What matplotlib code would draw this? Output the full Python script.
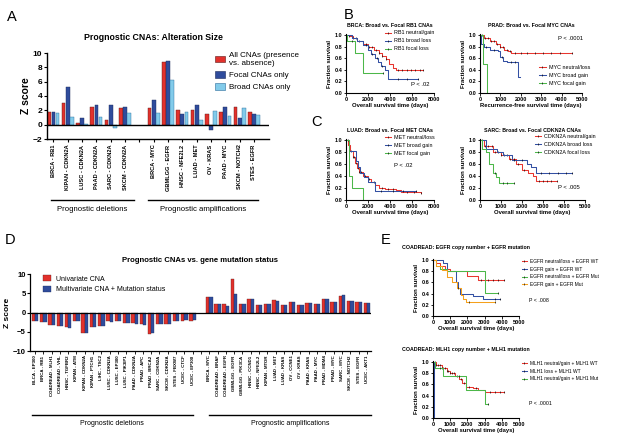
import matplotlib
matplotlib.use("Agg")
import matplotlib.pyplot as plt
import matplotlib.transforms as mtransforms
from matplotlib.patches import Patch
from matplotlib.lines import Line2D
import numpy as np

plt.rcParams['font.family'] = ['Liberation Sans', 'DejaVu Sans']

# ---------------- data ----------------
# Panel A
a_del_labels = ['BRCA - RB1', 'KIPAN - CDKN2A', 'LUSC - CDKN2A', 'PAAD - CDKN2A', 'SARC - CDKN2A', 'SKCM - CDKN2A']
a_amp_labels = ['BRCA - MYC', 'GBMLGG - EGFR', 'HNSC - NFE2L2', 'LUAD - MET', 'OV - KRAS', 'PAAD - MYC', 'SKCM - NOTCH2', 'STES - EGFR']
a_all = [1.8, 3.0, 0.2, 2.4, 0.7, 2.3, 2.3, 8.7, 2.1, 2.1, 1.5, 1.8, 2.4, 1.7]
a_focal = [1.7, 5.2, 0.9, 2.8, 2.7, 2.5, 3.4, 8.9, 1.5, 2.8, -0.7, 2.4, 0.9, 1.5]
a_broad = [1.6, 1.1, 0.05, 1.0, -0.4, 1.6, 1.6, 6.2, 1.7, 0.6, 1.9, 1.2, 2.3, 1.3]

# Panel D
d_del_labels = ['BLCA - EP300', 'BRCA - RB1', 'COADREAD - MLH1', 'COADREAD - VHL', 'HNSC - TGFBR2',
                'KIPAN - ATM', 'KIPAN - CDKN2A', 'KIPAN - PTCH1', 'LIHC - TSC2', 'LUSC - CDKN2A',
                'LUSC - EP300', 'LUSC - PIK3IP1', 'PAAD - CDKN2A', 'PRAD - APC', 'PRAD - BRCA2',
                'SARC - CDKN2A', 'SKCM - CDKN2A', 'STES - FBXW7', 'UCEC - CTCF', 'UCEC - EP300']
d_amp_labels = ['BRCA - MYC', 'COADREAD - BRAF', 'COADREAD - EGFR', 'GBMLGG - EGFR', 'GBMLGG - PIK3CA',
                'HNSC - CCND1', 'HNSC - NFE2L2', 'KIPAN - MTOR', 'LUAD - MET', 'LUAD - KRAS',
                'OV - CCNE1', 'OV - KRAS', 'PAAD - KRAS', 'PAAD - MYC', 'PRAD - MDM4',
                'PRAD - MYC', 'SARC - MYC', 'SKCM - NOTCH2', 'STES - EGFR', 'UCEC - AKT1']
d_uni = [-2.2, -2.4, -3.2, -3.4, -3.8, -2.3, -5.2, -3.8, -3.4, -2.2,
         -2.2, -2.7, -2.8, -3.0, -5.5, -3.0, -3.0, -2.2, -2.2, -2.1,
         4.0, 2.2, 2.2, 8.8, 2.2, 3.4, 2.0, 2.1, 3.2, 1.9,
         2.7, 2.0, 2.5, 2.3, 3.6, 2.8, 4.4, 3.0, 2.7, 2.5]
d_multi = [-2.2, -2.4, -3.2, -3.4, -3.9, -2.2, -5.3, -3.8, -3.4, -2.4,
           -2.3, -2.7, -3.1, -3.3, -5.2, -3.0, -3.0, -2.2, -2.0, -1.9,
           4.0, 2.2, 1.7, 4.8, 2.2, 3.5, 2.0, 2.1, 3.0, 1.9,
           2.7, 2.0, 2.5, 2.3, 3.6, 2.8, 4.5, 3.0, 2.7, 2.5]

# Panel B left: BRCA RB1
b1_red_t = [0, 300, 600, 1000, 1500, 2000, 2500, 3000, 3300, 3600, 3900, 4300, 4500, 7000]
b1_red_s = [1.0, 0.98, 0.95, 0.9, 0.85, 0.8, 0.74, 0.69, 0.64, 0.58, 0.5, 0.44, 0.4, 0.4]
b1_red_c = [300, 600, 900, 1200, 1500, 1800, 2100, 2400, 2700, 3000, 3300, 3600, 4700, 5100, 5500, 5900, 6300, 6700, 7000]
b1_blue_t = [0, 500, 1000, 1500, 2000, 2300, 2600, 2900, 3200, 3500, 3850, 6500]
b1_blue_s = [1.0, 0.95, 0.9, 0.83, 0.75, 0.67, 0.6, 0.53, 0.47, 0.4, 0.25, 0.25]
b1_blue_c = [1800, 2400, 2800, 3300, 4700, 5500, 6500]
b1_green_t = [0, 100, 850, 1550, 3400]
b1_green_s = [1.0, 0.9, 0.7, 0.35, 0.35]
b1_green_c = [500, 3400]

# Panel B right: PRAD MYC
b2_red_t = [0, 200, 500, 800, 1000, 1200, 1350, 1500, 4500]
b2_red_s = [1.0, 0.95, 0.9, 0.85, 0.8, 0.75, 0.72, 0.7, 0.7]
b2_red_c = [100, 250, 400, 550, 700, 850, 1000, 1150, 1300, 1450, 1700, 2000, 2300, 2700, 3100, 3500, 3900, 4500]
b2_blue_t = [0, 50, 200, 500, 900, 1000, 1150, 1300, 1850, 1950]
b2_blue_s = [1.0, 0.85, 0.8, 0.75, 0.73, 0.63, 0.56, 0.53, 0.27, 0.27]
b2_blue_c = [300, 700, 1100, 1500, 1700]
b2_green_t = [0, 150, 350, 360]
b2_green_s = [1.0, 0.5, 0.0, 0.0]

# Panel C left: LUAD MET
c1_red_t = [0, 200, 400, 600, 800, 1000, 1200, 1500, 2000, 2300, 2600, 3000, 3500, 4500, 5000, 6800]
c1_red_s = [1.0, 0.92, 0.82, 0.72, 0.62, 0.53, 0.46, 0.4, 0.35, 0.3, 0.25, 0.2, 0.18, 0.17, 0.13, 0.12]
c1_red_c = [150, 300, 450, 600, 750, 900, 1050, 1200, 1400, 1700, 2100, 2500, 3300, 3800, 4300, 5500, 6200, 6800]
c1_blue_t = [0, 300, 950, 1100, 1300, 1600, 2000, 2600, 6400]
c1_blue_s = [1.0, 0.82, 0.65, 0.55, 0.45, 0.38, 0.3, 0.15, 0.15]
c1_blue_c = [3200, 4300, 5200, 6400]
c1_green_t = [0, 250, 550, 1500, 1510]
c1_green_s = [1.0, 0.4, 0.2, 0.0, 0.0]

# Panel C right: SARC CDKN2A
c2_red_t = [0, 200, 600, 1000, 1400, 1700, 2000, 2300, 2500, 2650, 3650]
c2_red_s = [1.0, 0.9, 0.8, 0.75, 0.68, 0.6, 0.5, 0.45, 0.4, 0.32, 0.32]
c2_red_c = [100, 250, 400, 550, 700, 850, 1000, 1150, 1300, 1450, 1600, 1800, 2100, 2800, 3000, 3200, 3400, 3650]
c2_blue_t = [0, 300, 800, 1100, 1500, 2250, 2450, 2650, 4400]
c2_blue_s = [1.0, 0.85, 0.8, 0.75, 0.67, 0.6, 0.55, 0.45, 0.45]
c2_blue_c = [1600, 2000, 2900, 3300, 3700, 4100, 4400]
c2_green_t = [0, 100, 300, 450, 600, 750, 900, 1600]
c2_green_s = [1.0, 0.85, 0.8, 0.6, 0.45, 0.38, 0.29, 0.29]
c2_green_c = [700, 1100, 1300, 1600]

# Panel E top: COADREAD EGFR
e1_red_t = [0, 200, 400, 700, 1000, 2000, 2600, 4100]
e1_red_s = [1.0, 0.95, 0.9, 0.85, 0.8, 0.72, 0.65, 0.65]
e1_red_c = [2800, 3000, 3200, 3500, 3800, 4100]
e1_blue_t = [0, 600, 800, 1350, 1450, 1550, 2300, 2900, 3900]
e1_blue_s = [1.0, 0.95, 0.8, 0.6, 0.5, 0.4, 0.36, 0.3, 0.3]
e1_blue_c = [3600, 3900]
e1_green_t = [0, 200, 400, 800, 1600, 3000, 3050, 3800]
e1_green_s = [1.0, 0.9, 0.85, 0.8, 0.8, 0.62, 0.42, 0.42]
e1_green_c = [3800]
e1_orange_t = [0, 200, 500, 800, 1100, 1400, 1600, 1750, 1900, 3600]
e1_orange_s = [1.0, 0.9, 0.82, 0.7, 0.6, 0.5, 0.38, 0.3, 0.25, 0.25]
e1_orange_c = [1450, 2100, 3600]

# Panel E bottom: COADREAD MLH1
e2_red_t = [0, 200, 500, 800, 1000, 1300, 1500, 1700, 1900, 2300, 2600, 3000, 4100]
e2_red_s = [1.0, 0.95, 0.9, 0.85, 0.8, 0.75, 0.7, 0.62, 0.55, 0.53, 0.5, 0.47, 0.47]
e2_red_c = [100, 200, 300, 400, 500, 600, 700, 800, 900, 1000, 1100, 1200, 1400, 1600, 1800, 2100, 2500, 3300, 3600, 3900, 4100]
e2_blue_t = [0, 60, 70]
e2_blue_s = [1.0, 0.0, 0.0]
e2_green_t = [0, 100, 600, 1900, 3000, 3050, 3200]
e2_green_s = [1.0, 0.9, 0.75, 0.5, 0.5, 0.25, 0.25]
e2_green_c = [400, 1500, 3200]

RED = '#e2312c'
DBLUE = '#2f4c9c'
LBLUE = '#82cbea'
KRED = '#e8352f'
KBLUE = '#3350a3'
KGREEN = '#4cb749'
KORANGE = '#f5a01c'

W, H = 617, 444
fig = plt.figure(figsize=(W / 100, H / 100), dpi=100)


def px_axes(x0, y0, x1, y1):
    return fig.add_axes([x0 / W, 1 - y1 / H, (x1 - x0) / W, (y1 - y0) / H])


def group_line(ax, x0, x1, y_line, y_txt, label, fs):
    trans = mtransforms.blended_transform_factory(ax.transData, ax.transAxes)
    ax.plot([x0, x1], [y_line, y_line], color='black', lw=1.0, transform=trans, clip_on=False)
    ax.text((x0 + x1) / 2, y_txt, label, transform=trans, ha='center', va='top', fontsize=fs)


# ---------------- Panel A ----------------
axA = px_axes(47, 53, 269, 139)
a_pos = np.array(list(range(6)) + list(range(7, 15)))
wA = 0.26
axA.bar(a_pos - 0.29, a_all, wA, color=RED, edgecolor='#5a1a18', lw=0.3)
axA.bar(a_pos, a_focal, wA, color=DBLUE, edgecolor='#1a2a5a', lw=0.3)
axA.bar(a_pos + 0.29, a_broad, wA, color=LBLUE, edgecolor='#2a6a9a', lw=0.3)
axA.axhline(0, color='black', lw=1.0)
axA.set_xlim(-0.45, 15.05)
axA.set_ylim(-2, 10)
axA.set_yticks(range(-2, 11, 2))
axA.set_xticks(range(15))
axA.set_xticklabels(a_del_labels + [''] + a_amp_labels, rotation=90, fontsize=4.1, fontweight='bold')
axA.tick_params(axis='y', labelsize=6, width=0.8, length=2.5, pad=1)
axA.tick_params(axis='x', width=0.8, length=2.5, pad=1.5)
for lab in axA.get_yticklabels():
    lab.set_fontweight('bold')
for sp in ['top', 'right']:
    axA.spines[sp].set_visible(False)
for sp in ['left', 'bottom']:
    axA.spines[sp].set_linewidth(1.0)
axA.set_ylabel('Z score', fontsize=7.5, fontweight='bold', labelpad=1)
axA.set_title('Prognostic CNAs: Alteration Size', fontsize=6.3, fontweight='bold', pad=9, x=0.48)
a_handles = [Patch(facecolor=RED, edgecolor='#5a1a18', lw=0.4, label='All CNAs (presence\nvs. absence)'),
             Patch(facecolor=DBLUE, edgecolor='#1a2a5a', lw=0.4, label='Focal CNAs only'),
             Patch(facecolor=LBLUE, edgecolor='#2a6a9a', lw=0.4, label='Broad CNAs only')]
axA.legend(handles=a_handles, loc='upper left', bbox_to_anchor=(0.74, 1.05), frameon=False, fontsize=5.8,
           handlelength=1.3, handleheight=0.9, labelspacing=0.5, handletextpad=0.5, borderaxespad=0)
group_line(axA, -0.2, 5.6, -0.71, -0.78, 'Prognostic deletions', 5.6)
group_line(axA, 6.6, 14.3, -0.71, -0.78, 'Prognostic amplifications', 5.6)


# ---------------- KM helpers ----------------
def km_axes(box, xmax, xstep, title, xlabel, title_left=None):
    ax = px_axes(*box)
    ax.set_xlim(0, xmax)
    ax.set_ylim(0, 1.02)
    ax.set_xticks(np.arange(0, xmax + 1, xstep))
    ax.set_yticks(np.arange(0, 1.01, 0.2))
    ax.set_yticklabels(['%.1f' % v for v in np.arange(0, 1.01, 0.2)])
    ax.tick_params(labelsize=4, width=0.6, length=1.8, pad=0.8)
    for lab in ax.get_xticklabels() + ax.get_yticklabels():
        lab.set_fontweight('bold')
    for sp in ['top', 'right']:
        ax.spines[sp].set_visible(False)
    for sp in ['left', 'bottom']:
        ax.spines[sp].set_linewidth(0.8)
    ax.set_xlabel(xlabel, fontsize=4.2, fontweight='bold', labelpad=1)
    ax.set_ylabel('Fraction survival', fontsize=4.3, fontweight='bold', labelpad=1.5)
    if title_left is None:
        ax.set_title(title, fontsize=3.8, fontweight='bold', pad=5)
    else:
        fig.text(title_left / W, 1 - (box[1] - 12) / H, title, fontsize=3.8, fontweight='bold', va='center')
    return ax


def km(ax, t, s, color, label, censor=None):
    ax.step(t, s, where='post', color=color, lw=0.75, label=label)
    if censor:
        c = np.array(censor)
        idx = np.searchsorted(t, c, side='right') - 1
        ax.plot(c, np.array(s)[idx], ls='none', marker='|', ms=1.8, mew=0.45, color='black')


def km_legend(ax, labels, colors, x, y, fs=3.9):
    handles = [Line2D([0], [0], color=c, lw=0.75, marker='|', ms=1.8, mew=0.45, mec='black') for c in colors]
    ax.legend(handles, labels, loc='upper left', bbox_to_anchor=(x, y), frameon=False, fontsize=fs,
              handlelength=1.2, labelspacing=0.55, handletextpad=0.6, borderaxespad=0, borderpad=0)


# ---------------- Panel B ----------------
axB1 = km_axes((346, 34, 434, 93), 8000, 2000, 'BRCA: Broad vs. Focal RB1 CNAs', 'Overall survival time (days)')
km(axB1, b1_red_t, b1_red_s, KRED, 'RB1 neutral/gain', b1_red_c)
km(axB1, b1_blue_t, b1_blue_s, KBLUE, 'RB1 broad loss', b1_blue_c)
km(axB1, b1_green_t, b1_green_s, KGREEN, 'RB1 focal loss', b1_green_c)
km_legend(axB1, ['RB1 neutral/gain', 'RB1 broad loss', 'RB1 focal loss'], [KRED, KBLUE, KGREEN], 0.44, 1.06)
axB1.text(0.84, 0.14, 'P < .02', transform=axB1.transAxes, fontsize=4.2, ha='center', va='center')

axB2 = km_axes((480, 34, 582, 93), 5000, 1000, 'PRAD: Broad vs. Focal MYC CNAs', 'Recurrence-free survival time (days)')
km(axB2, b2_red_t, b2_red_s, KRED, 'MYC neutral/loss', b2_red_c)
km(axB2, b2_blue_t, b2_blue_s, KBLUE, 'MYC broad gain', b2_blue_c)
km(axB2, b2_green_t, b2_green_s, KGREEN, 'MYC focal gain')
km_legend(axB2, ['MYC neutral/loss', 'MYC broad gain', 'MYC focal gain'], [KRED, KBLUE, KGREEN], 0.58, 0.48)
axB2.text(0.89, 0.92, 'P < .0001', transform=axB2.transAxes, fontsize=4.2, ha='center', va='center')

# ---------------- Panel C ----------------
axC1 = km_axes((346, 139, 434, 200), 8000, 2000, 'LUAD: Broad vs. Focal MET CNAs', 'Overall survival time (days)')
km(axC1, c1_red_t, c1_red_s, KRED, 'MET neutral/loss', c1_red_c)
km(axC1, c1_blue_t, c1_blue_s, KBLUE, 'MET broad gain', c1_blue_c)
km(axC1, c1_green_t, c1_green_s, KGREEN, 'MET focal gain')
km_legend(axC1, ['MET neutral/loss', 'MET broad gain', 'MET focal gain'], [KRED, KBLUE, KGREEN], 0.44, 1.06)
axC1.text(0.65, 0.57, 'P < .02', transform=axC1.transAxes, fontsize=4.2, ha='center', va='center')

axC2 = km_axes((480, 139, 585, 200), 5000, 1000, 'SARC: Broad vs. Focal CDKN2A CNAs', 'Overall survival time (days)')
km(axC2, c2_red_t, c2_red_s, KRED, 'CDKN2A neutral/gain', c2_red_c)
km(axC2, c2_blue_t, c2_blue_s, KBLUE, 'CDKN2A broad loss', c2_blue_c)
km(axC2, c2_green_t, c2_green_s, KGREEN, 'CDKN2A focal loss', c2_green_c)
km_legend(axC2, ['CDKN2A neutral/gain', 'CDKN2A broad loss', 'CDKN2A focal loss'], [KRED, KBLUE, KGREEN], 0.52, 1.08)
axC2.text(0.85, 0.2, 'P < .005', transform=axC2.transAxes, fontsize=4.2, ha='center', va='center')

# ---------------- Panel D ----------------
axD = px_axes(30, 274, 371, 351)
d_pos = np.array(list(range(20)) + list(range(21, 41)))
wD = 0.4
axD.bar(d_pos - 0.2, d_uni, wD, color=RED, edgecolor='#5a1a18', lw=0.25, label='Univariate CNA')
axD.bar(d_pos + 0.2, d_multi, wD, color=DBLUE, edgecolor='#1a2a5a', lw=0.25, label='Multivariate CNA + Mutation status')
axD.axhline(0, color='black', lw=0.9)
axD.set_xlim(-0.6, 40.5)
axD.set_ylim(-10, 10)
axD.set_yticks([-10, -5, 0, 5, 10])
axD.set_xticks(range(41))
axD.set_xticklabels(d_del_labels + [''] + d_amp_labels, rotation=90, fontsize=3.2, fontweight='bold')
axD.tick_params(axis='y', labelsize=5.5, width=0.8, length=2.2, pad=1)
axD.tick_params(axis='x', width=0.6, length=2, pad=1.2)
for lab in axD.get_yticklabels():
    lab.set_fontweight('bold')
for sp in ['top', 'right']:
    axD.spines[sp].set_visible(False)
for sp in ['left', 'bottom']:
    axD.spines[sp].set_linewidth(0.9)
axD.set_ylabel('Z score', fontsize=6, fontweight='bold', labelpad=1)
axD.set_title('Prognostic CNAs vs. gene mutation status', fontsize=5.6, fontweight='bold', pad=9, x=0.5)
axD.legend(loc='upper left', bbox_to_anchor=(0.03, 1.02), frameon=False, fontsize=5,
           handlelength=1.1, handleheight=0.9, labelspacing=0.5, handletextpad=0.8, borderaxespad=0)
group_line(axD, -0.4, 19.0, -0.83, -0.89, 'Prognostic deletions', 5)
group_line(axD, 21.0, 40.5, -0.83, -0.89, 'Prognostic amplifications', 5)

# ---------------- Panel E ----------------
axE1 = km_axes((433, 259, 519, 316), 5000, 1000, 'COADREAD: EGFR copy number + EGFR mutation',
               'Overall survival time (days)', title_left=402)
km(axE1, e1_red_t, e1_red_s, KRED, 'EGFR neutral/loss + EGFR WT', e1_red_c)
km(axE1, e1_blue_t, e1_blue_s, KBLUE, 'EGFR gain + EGFR WT', e1_blue_c)
km(axE1, e1_green_t, e1_green_s, KGREEN, 'EGFR neutral/loss + EGFR Mut', e1_green_c)
km(axE1, e1_orange_t, e1_orange_s, KORANGE, 'EGFR gain + EGFR Mut', e1_orange_c)
km_legend(axE1, ['EGFR neutral/loss + EGFR WT', 'EGFR gain + EGFR WT', 'EGFR neutral/loss + EGFR Mut',
                 'EGFR gain + EGFR Mut'], [KRED, KBLUE, KGREEN, KORANGE], 1.03, 1.0, fs=3.5)
axE1.text(1.12, 0.28, 'P < .008', transform=axE1.transAxes, fontsize=3.8, ha='left', va='center')

axE2 = km_axes((433, 361, 519, 418), 5000, 1000, 'COADREAD: MLH1 copy number + MLH1 mutation',
               'Overall survival time (days)', title_left=402)
km(axE2, e2_red_t, e2_red_s, KRED, 'MLH1 neutral/gain + MLH1 WT', e2_red_c)
km(axE2, e2_blue_t, e2_blue_s, KBLUE, 'MLH1 loss + MLH1 WT')
km(axE2, e2_green_t, e2_green_s, KGREEN, 'MLH1 neutral/gain + MLH1 Mut', e2_green_c)
km_legend(axE2, ['MLH1 neutral/gain + MLH1 WT', 'MLH1 loss + MLH1 WT', 'MLH1 neutral/gain + MLH1 Mut'],
          [KRED, KBLUE, KGREEN], 1.03, 1.0, fs=3.5)
axE2.text(1.12, 0.26, 'P < .0001', transform=axE2.transAxes, fontsize=3.8, ha='left', va='center')

# ---------------- panel letters ----------------
for letter, (x, y) in {'A': (12, 17), 'B': (349, 15), 'C': (316, 122), 'D': (10, 240), 'E': (386, 240)}.items():
    fig.text(x / W, 1 - y / H, letter, fontsize=10.5, ha='center', va='center')

fig.savefig('out.png', dpi=100)
